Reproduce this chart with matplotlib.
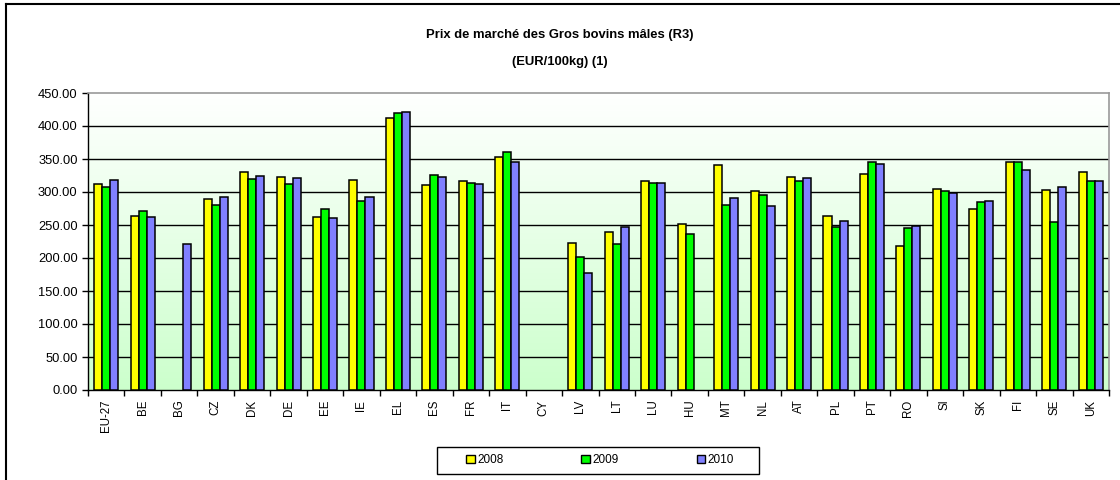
import matplotlib
matplotlib.use("Agg")
from matplotlib import pyplot as plt
from matplotlib.patches import Patch, Rectangle
from matplotlib.lines import Line2D
import numpy as np

plt.rcParams['font.family'] = ['Liberation Sans', 'DejaVu Sans']

countries = ['EU-27', 'BE', 'BG', 'CZ', 'DK', 'DE', 'EE', 'IE', 'EL', 'ES', 'FR', 'IT', 'CY', 'LV',
             'LT', 'LU', 'HU', 'MT', 'NL', 'AT', 'PL', 'PT', 'RO', 'SI', 'SK', 'FI', 'SE', 'UK']
nan = np.nan
y2008 = [312.5, 264.0, nan, 289.0, 330.0, 323.0, 262.5, 317.6, 412.5, 311.0, 317.0, 353.4, nan, 222.0,
         238.8, 316.6, 251.0, 341.3, 301.0, 322.7, 263.6, 327.2, 218.6, 304.0, 275.0, 344.8, 303.0, 329.7]
y2009 = [307.5, 271.0, nan, 280.0, 319.7, 312.0, 274.7, 287.0, 419.7, 325.7, 313.0, 360.6, nan, 201.0,
         220.6, 313.6, 236.3, 279.7, 295.4, 316.6, 247.4, 344.8, 244.9, 301.0, 285.3, 344.8, 255.0, 316.6]
y2010 = [318.0, 262.5, 221.0, 293.0, 323.6, 320.6, 260.0, 291.8, 421.0, 322.0, 311.5, 346.0, nan, 177.7,
         246.4, 314.0, nan, 290.3, 279.2, 321.2, 256.0, 341.8, 249.0, 299.0, 286.8, 333.3, 307.5, 316.6]
years = ['2008', '2009', '2010']
colors = ['#ffff00', '#00ff00', '#8080ff']

W, H = 1120, 480
fig = plt.figure(figsize=(W / 100, H / 100), dpi=100)
ax = fig.add_axes([88 / W, 1 - 390 / H, (1109 - 88) / W, (390 - 93) / H])

x = np.arange(len(countries))
w = 0.22
for i, (vals, c) in enumerate(zip([y2008, y2009, y2010], colors)):
    ax.bar(x + (i - 1) * w, vals, width=w, color=c, edgecolor='black', linewidth=1.1, zorder=3)

# white-to-green gradient behind the bars
grad = np.linspace(0, 1, 256).reshape(-1, 1)
top = np.array([1.0, 1.0, 1.0])
bottom = np.array([0.80, 1.0, 0.80])
img = top + (bottom - top) * grad[:, :, None]
ax.imshow(img, extent=[-0.5, len(countries) - 0.5, 0, 450], aspect='auto', origin='upper', zorder=0)

ax.set_xlim(-0.5, len(countries) - 0.5)
ax.set_ylim(0, 450)
ax.set_yticks(np.arange(0, 451, 50))
ax.set_yticklabels(['%.2f' % v for v in np.arange(0, 451, 50)], fontsize=9.3)
for v in np.arange(50, 450, 50):
    ax.axhline(v, color='black', linewidth=1, zorder=1)

ax.set_xticks(x)
ax.set_xticklabels(countries, rotation=90, fontsize=8.3)
ax.tick_params(axis='x', length=0, pad=7)
ax.set_xticks(np.arange(-0.5, len(countries), 1), minor=True)
ax.tick_params(axis='x', which='minor', length=4, direction='out', width=1)
ax.tick_params(axis='y', length=4, direction='out', width=1)

for s in ['top', 'right']:
    ax.spines[s].set_color('#999999')
    ax.spines[s].set_linewidth(1.2)
for s in ['left', 'bottom']:
    ax.spines[s].set_color('black')
    ax.spines[s].set_linewidth(1)

fig.text(0.5, 1 - 35 / H, 'Prix de marché des Gros bovins mâles (R3)', ha='center', va='center',
         fontsize=9.4, fontweight='bold')
fig.text(0.5, 1 - 62 / H, '(EUR/100kg) (1)', ha='center', va='center', fontsize=9.4, fontweight='bold')

# legend entries without frame, box drawn separately
handles = [Patch(facecolor=c, edgecolor='black', linewidth=1) for c in colors]
fig.legend(handles, years, loc='center', bbox_to_anchor=(600 / W, 1 - 460 / H), ncol=3,
           fontsize=8.5, frameon=False, handlelength=0.75, handleheight=0.75,
           handletextpad=0.2, columnspacing=6.6)
fig.add_artist(Rectangle((437 / W, 1 - 474 / H), (759 - 437) / W, 27 / H, transform=fig.transFigure,
                         facecolor='none', edgecolor='black', linewidth=1))

# frame lines along the top and left of the figure
fig.add_artist(Line2D([6 / W, 1], [1 - 4 / H, 1 - 4 / H], transform=fig.transFigure,
                      color='black', linewidth=1.5))
fig.add_artist(Line2D([6 / W, 6 / W], [0, 1 - 4 / H], transform=fig.transFigure,
                      color='black', linewidth=1.5))

fig.savefig('out.png', dpi=100)
